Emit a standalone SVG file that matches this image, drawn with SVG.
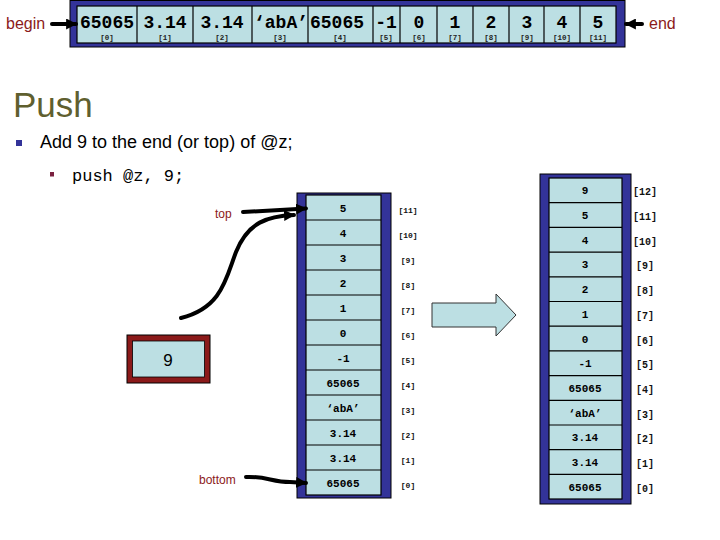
<svg xmlns="http://www.w3.org/2000/svg" width="720" height="540" viewBox="0 0 720 540">
<defs>
<style>
.outer{fill:#333399;stroke:#000;stroke-width:1}
.cell{fill:#BCDFE3;stroke:#000;stroke-width:1.2}
.tv{font-family:"Liberation Mono",monospace;font-weight:bold;font-size:18px;fill:#000;text-anchor:middle}
.ti{font-family:"Liberation Mono",monospace;font-weight:bold;font-size:7.5px;fill:#222;text-anchor:middle}
.sv{font-family:"Liberation Mono",monospace;font-weight:bold;font-size:11px;fill:#000;text-anchor:middle}
.si{font-family:"Liberation Mono",monospace;font-weight:bold;font-size:8px;fill:#111;text-anchor:middle}
.ri{font-family:"Liberation Mono",monospace;font-weight:bold;font-size:10px;fill:#111;text-anchor:middle}
.lbl{font-family:"Liberation Sans",Arial,sans-serif;fill:#8B1A1A}
.conn{fill:none;stroke:#000;stroke-width:4;stroke-linecap:round}
</style>
<marker id="ah" viewBox="0 0 10 10" refX="9" refY="5" markerWidth="11" markerHeight="11" markerUnits="userSpaceOnUse" orient="auto">
<path d="M0,0 L10,5 L0,10 z" fill="#000"/>
</marker>
</defs>
<rect width="720" height="540" fill="#fff"/>

<!-- Top array -->
<g id="top-array">
<rect class="outer" x="70" y="0.5" width="555" height="46.5"/>
<rect class="cell" x="77" y="6" width="539" height="37"/>
<g stroke="#000" stroke-width="1.2">
<line x1="137" y1="6" x2="137" y2="43"/><line x1="193" y1="6" x2="193" y2="43"/>
<line x1="252" y1="6" x2="252" y2="43"/><line x1="308" y1="6" x2="308" y2="43"/>
<line x1="373" y1="6" x2="373" y2="43"/><line x1="400" y1="6" x2="400" y2="43"/>
<line x1="437" y1="6" x2="437" y2="43"/><line x1="473" y1="6" x2="473" y2="43"/>
<line x1="509" y1="6" x2="509" y2="43"/><line x1="544" y1="6" x2="544" y2="43"/>
<line x1="580" y1="6" x2="580" y2="43"/>
</g>
<g id="t0"><text class="tv" x="107" y="28">65065</text><text class="ti" x="107" y="40">[0]</text></g>
<g id="t1"><text class="tv" x="165" y="28">3.14</text><text class="ti" x="165" y="40">[1]</text></g>
<g id="t2"><text class="tv" x="222" y="28">3.14</text><text class="ti" x="222" y="40">[2]</text></g>
<g id="t3"><text class="tv" x="281" y="28">‘abA’</text><text class="ti" x="280" y="40">[3]</text></g>
<g id="t4"><text class="tv" x="337" y="28">65065</text><text class="ti" x="340" y="40">[4]</text></g>
<g id="t5"><text class="tv" x="386" y="28">-1</text><text class="ti" x="386" y="40">[5]</text></g>
<g id="t6"><text class="tv" x="419" y="28">0</text><text class="ti" x="419" y="40">[6]</text></g>
<g id="t7"><text class="tv" x="455" y="28">1</text><text class="ti" x="455" y="40">[7]</text></g>
<g id="t8"><text class="tv" x="491" y="28">2</text><text class="ti" x="491" y="40">[8]</text></g>
<g id="t9"><text class="tv" x="527" y="28">3</text><text class="ti" x="527" y="40">[9]</text></g>
<g id="t10"><text class="tv" x="562" y="28">4</text><text class="ti" x="562" y="40">[10]</text></g>
<g id="t11"><text class="tv" x="598" y="28">5</text><text class="ti" x="598" y="40">[11]</text></g>
</g>

<g id="begin-label"><text class="lbl" x="6" y="29" font-size="16">begin</text></g>
<g id="end-label"><text class="lbl" x="649" y="29" font-size="16">end</text></g>

<!-- Heading and bullets -->
<g id="heading">
<text x="13" y="117" font-family="'Liberation Sans',Arial,sans-serif" font-size="35" fill="#5F5F2F">Push</text>
<rect x="16" y="140" width="6" height="6" fill="#333399"/>
<text x="40" y="148" font-family="'Liberation Sans',Arial,sans-serif" font-size="18" fill="#000">Add 9 to the end (or top) of @z;</text>
<rect x="50" y="172" width="4" height="4.5" fill="#7A2040"/>
<text x="72" y="181" font-family="'Liberation Mono','Courier New',monospace" font-size="17" fill="#000">push @z, 9;</text>
</g>

<!-- Left stack -->
<g id="left-stack">
<rect class="outer" x="297" y="193" width="94" height="305"/>
<rect class="cell" x="306" y="195" width="75" height="300"/>
<g stroke="#000" stroke-width="1.2">
<line x1="306" y1="220" x2="381" y2="220"/><line x1="306" y1="245" x2="381" y2="245"/>
<line x1="306" y1="270" x2="381" y2="270"/><line x1="306" y1="295" x2="381" y2="295"/>
<line x1="306" y1="320" x2="381" y2="320"/><line x1="306" y1="345" x2="381" y2="345"/>
<line x1="306" y1="370" x2="381" y2="370"/><line x1="306" y1="395" x2="381" y2="395"/>
<line x1="306" y1="420" x2="381" y2="420"/><line x1="306" y1="445" x2="381" y2="445"/>
<line x1="306" y1="470" x2="381" y2="470"/>
</g>
<g id="l11"><text class="sv" x="343" y="211.5">5</text><text class="si" x="408" y="213">[11]</text></g>
<g id="l10"><text class="sv" x="343" y="236.5">4</text><text class="si" x="408" y="238">[10]</text></g>
<g id="l9"><text class="sv" x="343" y="261.5">3</text><text class="si" x="408" y="263">[9]</text></g>
<g id="l8"><text class="sv" x="343" y="286.5">2</text><text class="si" x="408" y="288">[8]</text></g>
<g id="l7"><text class="sv" x="343" y="311.5">1</text><text class="si" x="408" y="313">[7]</text></g>
<g id="l6"><text class="sv" x="343" y="336.5">0</text><text class="si" x="408" y="338">[6]</text></g>
<g id="l5"><text class="sv" x="343" y="361.5">-1</text><text class="si" x="408" y="363">[5]</text></g>
<g id="l4"><text class="sv" x="343" y="386.5">65065</text><text class="si" x="408" y="388">[4]</text></g>
<g id="l3"><text class="sv" x="343" y="411.5">‘abA’</text><text class="si" x="408" y="413">[3]</text></g>
<g id="l2"><text class="sv" x="343" y="436.5">3.14</text><text class="si" x="408" y="438">[2]</text></g>
<g id="l1"><text class="sv" x="343" y="461.5">3.14</text><text class="si" x="408" y="463">[1]</text></g>
<g id="l0"><text class="sv" x="343" y="486.5">65065</text><text class="si" x="408" y="488">[0]</text></g>
</g>

<g id="top-label"><text class="lbl" x="215" y="218" font-size="12">top</text></g>
<g id="bottom-label"><text class="lbl" x="199" y="484" font-size="12">bottom</text></g>

<!-- Nine box -->
<g id="nine-box">
<rect x="127" y="335" width="83" height="48" fill="#8B1A1A" stroke="#000" stroke-width="1"/>
<rect x="132.5" y="341" width="72" height="36" fill="#BCDFE3" stroke="#000" stroke-width="0.8"/>
<text x="168" y="366" font-family="'Liberation Sans',Arial,sans-serif" font-size="17" fill="#000" text-anchor="middle">9</text>
</g>

<!-- Big arrow -->
<g id="big-arrow">
<polygon points="432,303 496,303 496,294 516,315 496,336 496,327 432,327" fill="#BCDFE3" stroke="#333" stroke-width="1"/>
</g>

<!-- Right stack -->
<g id="right-stack">
<rect class="outer" x="540" y="174" width="91" height="330"/>
<rect class="cell" x="549" y="178" width="73" height="321"/>
<g stroke="#000" stroke-width="1.2">
<line x1="549" y1="202.7" x2="622" y2="202.7"/><line x1="549" y1="227.4" x2="622" y2="227.4"/>
<line x1="549" y1="252.1" x2="622" y2="252.1"/><line x1="549" y1="276.8" x2="622" y2="276.8"/>
<line x1="549" y1="301.5" x2="622" y2="301.5"/><line x1="549" y1="326.2" x2="622" y2="326.2"/>
<line x1="549" y1="350.9" x2="622" y2="350.9"/><line x1="549" y1="375.6" x2="622" y2="375.6"/>
<line x1="549" y1="400.3" x2="622" y2="400.3"/><line x1="549" y1="425" x2="622" y2="425"/>
<line x1="549" y1="449.7" x2="622" y2="449.7"/><line x1="549" y1="474.4" x2="622" y2="474.4"/>
</g>
<g id="r12"><text class="sv" x="585" y="194.3">9</text><text class="ri" x="645" y="195.3">[12]</text></g>
<g id="r11"><text class="sv" x="585" y="219">5</text><text class="ri" x="645" y="220">[11]</text></g>
<g id="r10"><text class="sv" x="585" y="243.7">4</text><text class="ri" x="645" y="244.7">[10]</text></g>
<g id="r9"><text class="sv" x="585" y="268.4">3</text><text class="ri" x="645" y="269.4">[9]</text></g>
<g id="r8"><text class="sv" x="585" y="293.1">2</text><text class="ri" x="645" y="294.1">[8]</text></g>
<g id="r7"><text class="sv" x="585" y="317.8">1</text><text class="ri" x="645" y="318.8">[7]</text></g>
<g id="r6"><text class="sv" x="585" y="342.5">0</text><text class="ri" x="645" y="343.5">[6]</text></g>
<g id="r5"><text class="sv" x="585" y="367.2">-1</text><text class="ri" x="645" y="368.2">[5]</text></g>
<g id="r4"><text class="sv" x="585" y="391.9">65065</text><text class="ri" x="645" y="392.9">[4]</text></g>
<g id="r3"><text class="sv" x="585" y="416.6">‘abA’</text><text class="ri" x="645" y="417.6">[3]</text></g>
<g id="r2"><text class="sv" x="585" y="441.3">3.14</text><text class="ri" x="645" y="442.3">[2]</text></g>
<g id="r1"><text class="sv" x="585" y="466">3.14</text><text class="ri" x="645" y="467">[1]</text></g>
<g id="r0"><text class="sv" x="585" y="490.7">65065</text><text class="ri" x="645" y="491.7">[0]</text></g>
</g>

<!-- Connectors -->
<g id="connectors">
<path class="conn" d="M52,24 L76,24" marker-end="url(#ah)"/>
<path class="conn" d="M642,24 L626,24" marker-end="url(#ah)"/>
<path class="conn" d="M243,212 L306,208.5" marker-end="url(#ah)"/>
<path class="conn" d="M181,318 C222,308 226,278 236,252 C248,222 268,216 294,215" marker-end="url(#ah)"/>
<path class="conn" d="M246,477 C266,476 272,482 290,482 L306,483" marker-end="url(#ah)"/>
</g>
</svg>
